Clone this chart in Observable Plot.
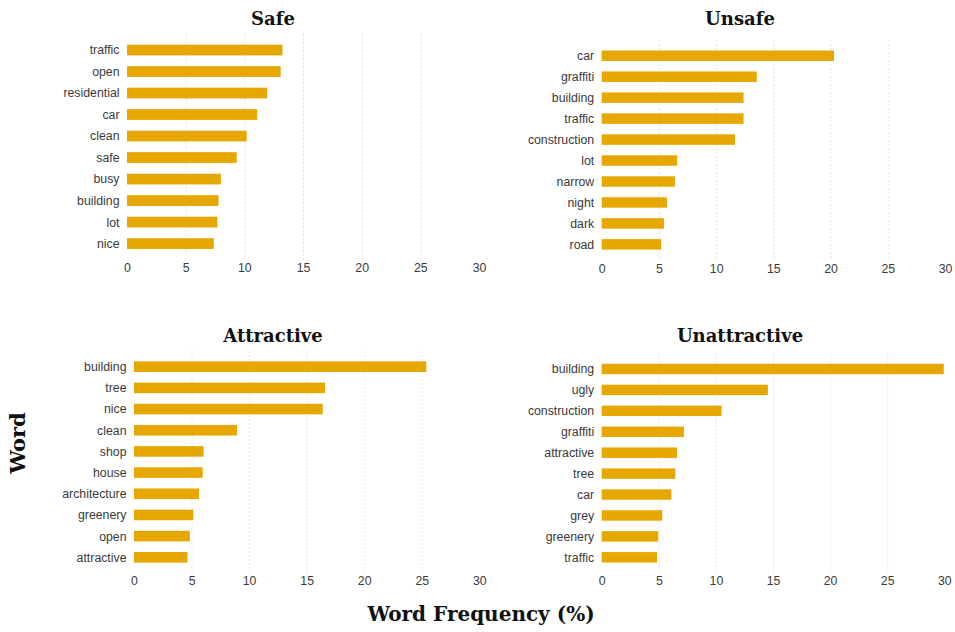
<!DOCTYPE html>
<html>
<head>
<meta charset="utf-8">
<script src="https://cdn.jsdelivr.net/npm/d3@7"></script>
<script src="https://cdn.jsdelivr.net/npm/@observablehq/plot@0.6"></script>
<style>
  html, body { margin: 0; padding: 0; background: #fff; }
  #root { position: relative; width: 955px; height: 632px; overflow: hidden; background: #fff; }
  .panel { position: absolute; }
  .title { position: absolute; font-family: "DejaVu Serif", serif; font-weight: bold; font-size: 18px; color: #111; text-align: center; white-space: nowrap; transform: translate(-50%, -50%); }
  .ylab { position: absolute; font-family: "DejaVu Serif", serif; font-weight: bold; font-size: 21px; color: #111; white-space: nowrap; transform: translate(-50%, -50%) rotate(-90deg); }
  .xlab { position: absolute; font-family: "DejaVu Serif", serif; font-weight: bold; font-size: 20px; color: #111; white-space: nowrap; transform: translate(-50%, -50%); }
</style>
</head>
<body>
<div id="root"></div>
<script>
// ---- data ----
const safeWords = ["traffic", "open", "residential", "car", "clean", "safe", "busy", "building", "lot", "nice"];
const safeValues = [13.25, 13.1, 11.95, 11.1, 10.2, 9.35, 8.0, 7.8, 7.7, 7.4];

const unsafeWords = ["car", "graffiti", "building", "traffic", "construction", "lot", "narrow", "night", "dark", "road"];
const unsafeValues = [20.3, 13.55, 12.4, 12.4, 11.65, 6.6, 6.4, 5.7, 5.45, 5.2];

const attractiveWords = ["building", "tree", "nice", "clean", "shop", "house", "architecture", "greenery", "open", "attractive"];
const attractiveValues = [25.4, 16.6, 16.4, 8.95, 6.05, 5.97, 5.65, 5.15, 4.85, 4.65];

const unattractiveWords = ["building", "ugly", "construction", "graffiti", "attractive", "tree", "car", "grey", "greenery", "traffic"];
const unattractiveValues = [29.95, 14.55, 10.5, 7.2, 6.6, 6.45, 6.1, 5.3, 4.95, 4.85];

const xTicks = [0, 5, 10, 15, 20, 25, 30];
const gridTicks = [5, 10, 15, 20, 25];
const panelTitles = ["Safe", "Unsafe", "Attractive", "Unattractive"];
const xTitle = "Word Frequency (%)";
const yTitle = "Word";

const barColor = "#e6a800";

function panel(words, values, cfg) {
  const data = words.map((w, i) => ({word: w, value: values[i]}));
  const chart = Plot.plot({
    width: cfg.width,
    height: cfg.height,
    marginLeft: cfg.ml,
    marginRight: cfg.mr,
    marginTop: cfg.mt,
    marginBottom: cfg.mb,
    style: {fontFamily: "'Liberation Sans', Arial, sans-serif", fontSize: "12.3px", color: "#3a3a3a", background: "transparent"},
    x: {domain: [0, 30], ticks: xTicks, tickSize: 0, tickPadding: cfg.tp, label: null},
    y: {domain: words, padding: 0.5, round: false, tickSize: 0, tickPadding: 8, label: null},
    marks: [
      Plot.ruleX(gridTicks, {stroke: "#e4e4e4", strokeWidth: 1, strokeDasharray: "2,2"}),
      Plot.barX(data, {x: "value", y: "word", fill: barColor})
    ]
  });
  const div = document.createElement("div");
  div.className = "panel";
  div.style.left = cfg.left + "px";
  div.style.top = cfg.top + "px";
  div.appendChild(chart);
  return div;
}

const root = document.getElementById("root");
root.appendChild(panel(safeWords, safeValues, {left: 30, top: 30, width: 460, height: 260, ml: 97, mr: 11, mt: 3.9, mb: 30.3, tp: 3}));
root.appendChild(panel(unsafeWords, unsafeValues, {left: 490, top: 30, width: 465, height: 260, ml: 111.7, mr: 10, mt: 10, mb: 29.9, tp: 4}));
root.appendChild(panel(attractiveWords, attractiveValues, {left: 30, top: 348, width: 460, height: 242, ml: 104, mr: 10.7, mt: 2.8, mb: 16.8, tp: 3}));
root.appendChild(panel(unattractiveWords, unattractiveValues, {left: 490, top: 348, width: 465, height: 242, ml: 111.7, mr: 10.7, mt: 5.3, mb: 17, tp: 3}));

function addLabel(cls, text, x, y) {
  const d = document.createElement("div");
  d.className = cls;
  d.textContent = text;
  d.style.left = x + "px";
  d.style.top = y + "px";
  root.appendChild(d);
}
addLabel("title", panelTitles[0], 273, 18);
addLabel("title", panelTitles[1], 740, 18);
addLabel("title", panelTitles[2], 273, 335);
addLabel("title", panelTitles[3], 740, 335);
addLabel("ylab", yTitle, 17, 443);
addLabel("xlab", xTitle, 481, 614);
</script>
</body>
</html>
